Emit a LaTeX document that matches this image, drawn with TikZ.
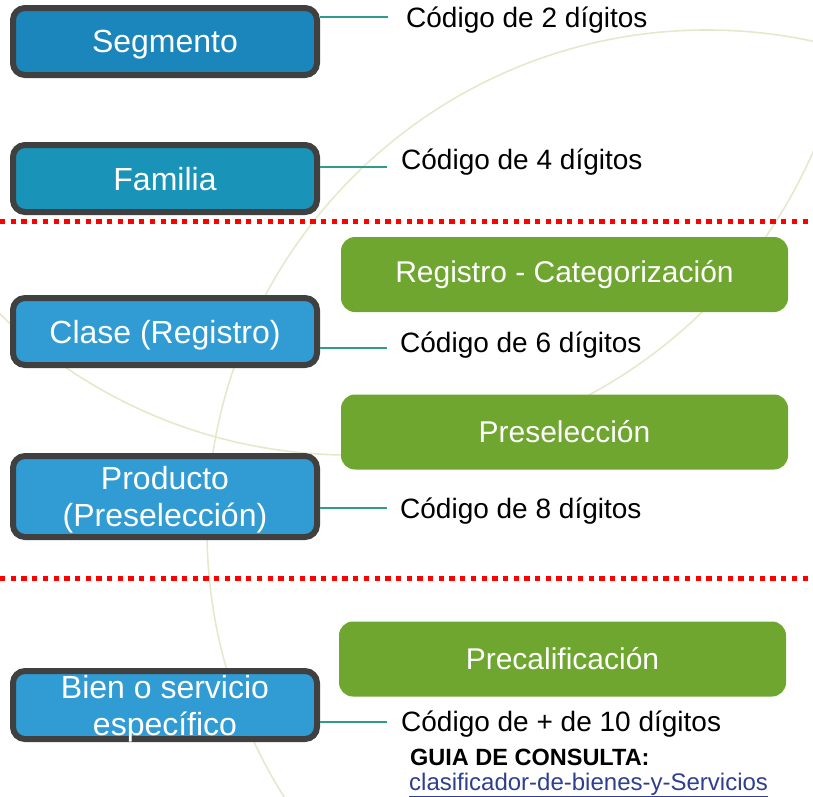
\documentclass[tikz,border=0pt]{standalone}
\usepackage{fontspec}
\setmainfont{Liberation Sans}
\usetikzlibrary{positioning}

\definecolor{segblue}{HTML}{1A86BC}
\definecolor{famblue}{HTML}{1993B8}
\definecolor{lightblue}{HTML}{319CD4}
\definecolor{boxborder}{HTML}{404040}
\definecolor{stagegreen}{HTML}{6EA62F}
\definecolor{linkteal}{HTML}{2A9D8C}
\definecolor{arcbeige}{HTML}{E4E9CC}
\definecolor{linkblue}{HTML}{2E3F8F}

\tikzset{
  level/.style={draw=boxborder, line width=6pt, rounded corners=12pt,
    minimum width=304pt, text=white, align=center, text depth=0pt,
    font=\fontsize{32}{37}\selectfont},
  stage/.style={fill=stagegreen, rounded corners=14pt, minimum width=447pt,
    minimum height=75pt, text=white, font=\fontsize{30}{34}\selectfont},
  code/.style={anchor=west, inner sep=0pt, font=\fontsize{28}{30}\selectfont},
  tie/.style={draw=linkteal, line width=2pt},
  cut/.style={draw=red, line width=5pt, dash pattern=on 5.3pt off 5.4pt},
  bgarc/.style={draw=arcbeige, line width=1.6pt}
}

\begin{document}
\begin{tikzpicture}[x=1pt,y=-1pt]

   \useasboundingbox (0,0) rectangle (813,796);

   % arcos de fondo
   \begin{scope}
     \clip (0,0) rectangle (813,796);
     \draw[bgarc] (707,530) circle[radius=500];
     \draw[bgarc] (350,-50) circle[radius=505];
   \end{scope}

   % lineas de corte
   \draw[cut] (0,221) -- (813,221);
   \draw[cut] (0,578) -- (813,578);

   % niveles del clasificador
   \node[level, fill=segblue, minimum height=67pt] (seg) at (165,41.5) {Segmento};
   \node[level, fill=famblue, minimum height=67pt] (fam) at (165,178.5) {Familia};
   \node[level, fill=lightblue, minimum height=67pt] (cla) at (165,331.5) {Clase (Registro)};
   \node[level, fill=lightblue, minimum height=81pt] (pro) at (165,496.5) {Producto\\(Preselección)};
   \node[level, fill=lightblue, minimum height=68pt] (bie) at (165,705) {Bien o servicio\\específico};

   % etapas
   \node[stage] (reg) at (564.5,274.5) {Registro - Categorización};
   \node[stage] (pre) at (564.5,432) {Preselección};
   \node[stage] (pca) at (562.5,659) {Precalificación};

   % codigos
   \node[code] (c2)  at (406,20)  {Código de 2 dígitos};
   \node[code] (c4)  at (401,162) {Código de 4 dígitos};
   \node[code] (c6)  at (400,345) {Código de 6 dígitos};
   \node[code] (c8)  at (400,511) {Código de 8 dígitos};
   \node[code] (c10) at (401,724) {Código de + de 10 dígitos};
   \node[code, font=\bfseries\fontsize{23.5}{26}\selectfont] (guia) at (410,757) {GUIA DE CONSULTA:};
   \node[code, text=linkblue, font=\fontsize{24}{26}\selectfont] (url) at (409,785)
     {\underline{clasificador-de-bienes-y-Servicios}};

   % enlaces nivel - codigo
   \coordinate (e2)  at (388,17);
   \coordinate (e4)  at (387,167);
   \coordinate (e6)  at (387,348);
   \coordinate (e8)  at (387,508);
   \coordinate (e10) at (387,722);
   \path[tie] (e2 -| seg.east) -- (e2);
   \path[tie] (e4 -| fam.east) -- (e4);
   \path[tie] (e6 -| cla.east) -- (e6);
   \path[tie] (e8 -| pro.east) -- (e8);
   \path[tie] (e10 -| bie.east) -- (e10);

\end{tikzpicture}
\end{document}
